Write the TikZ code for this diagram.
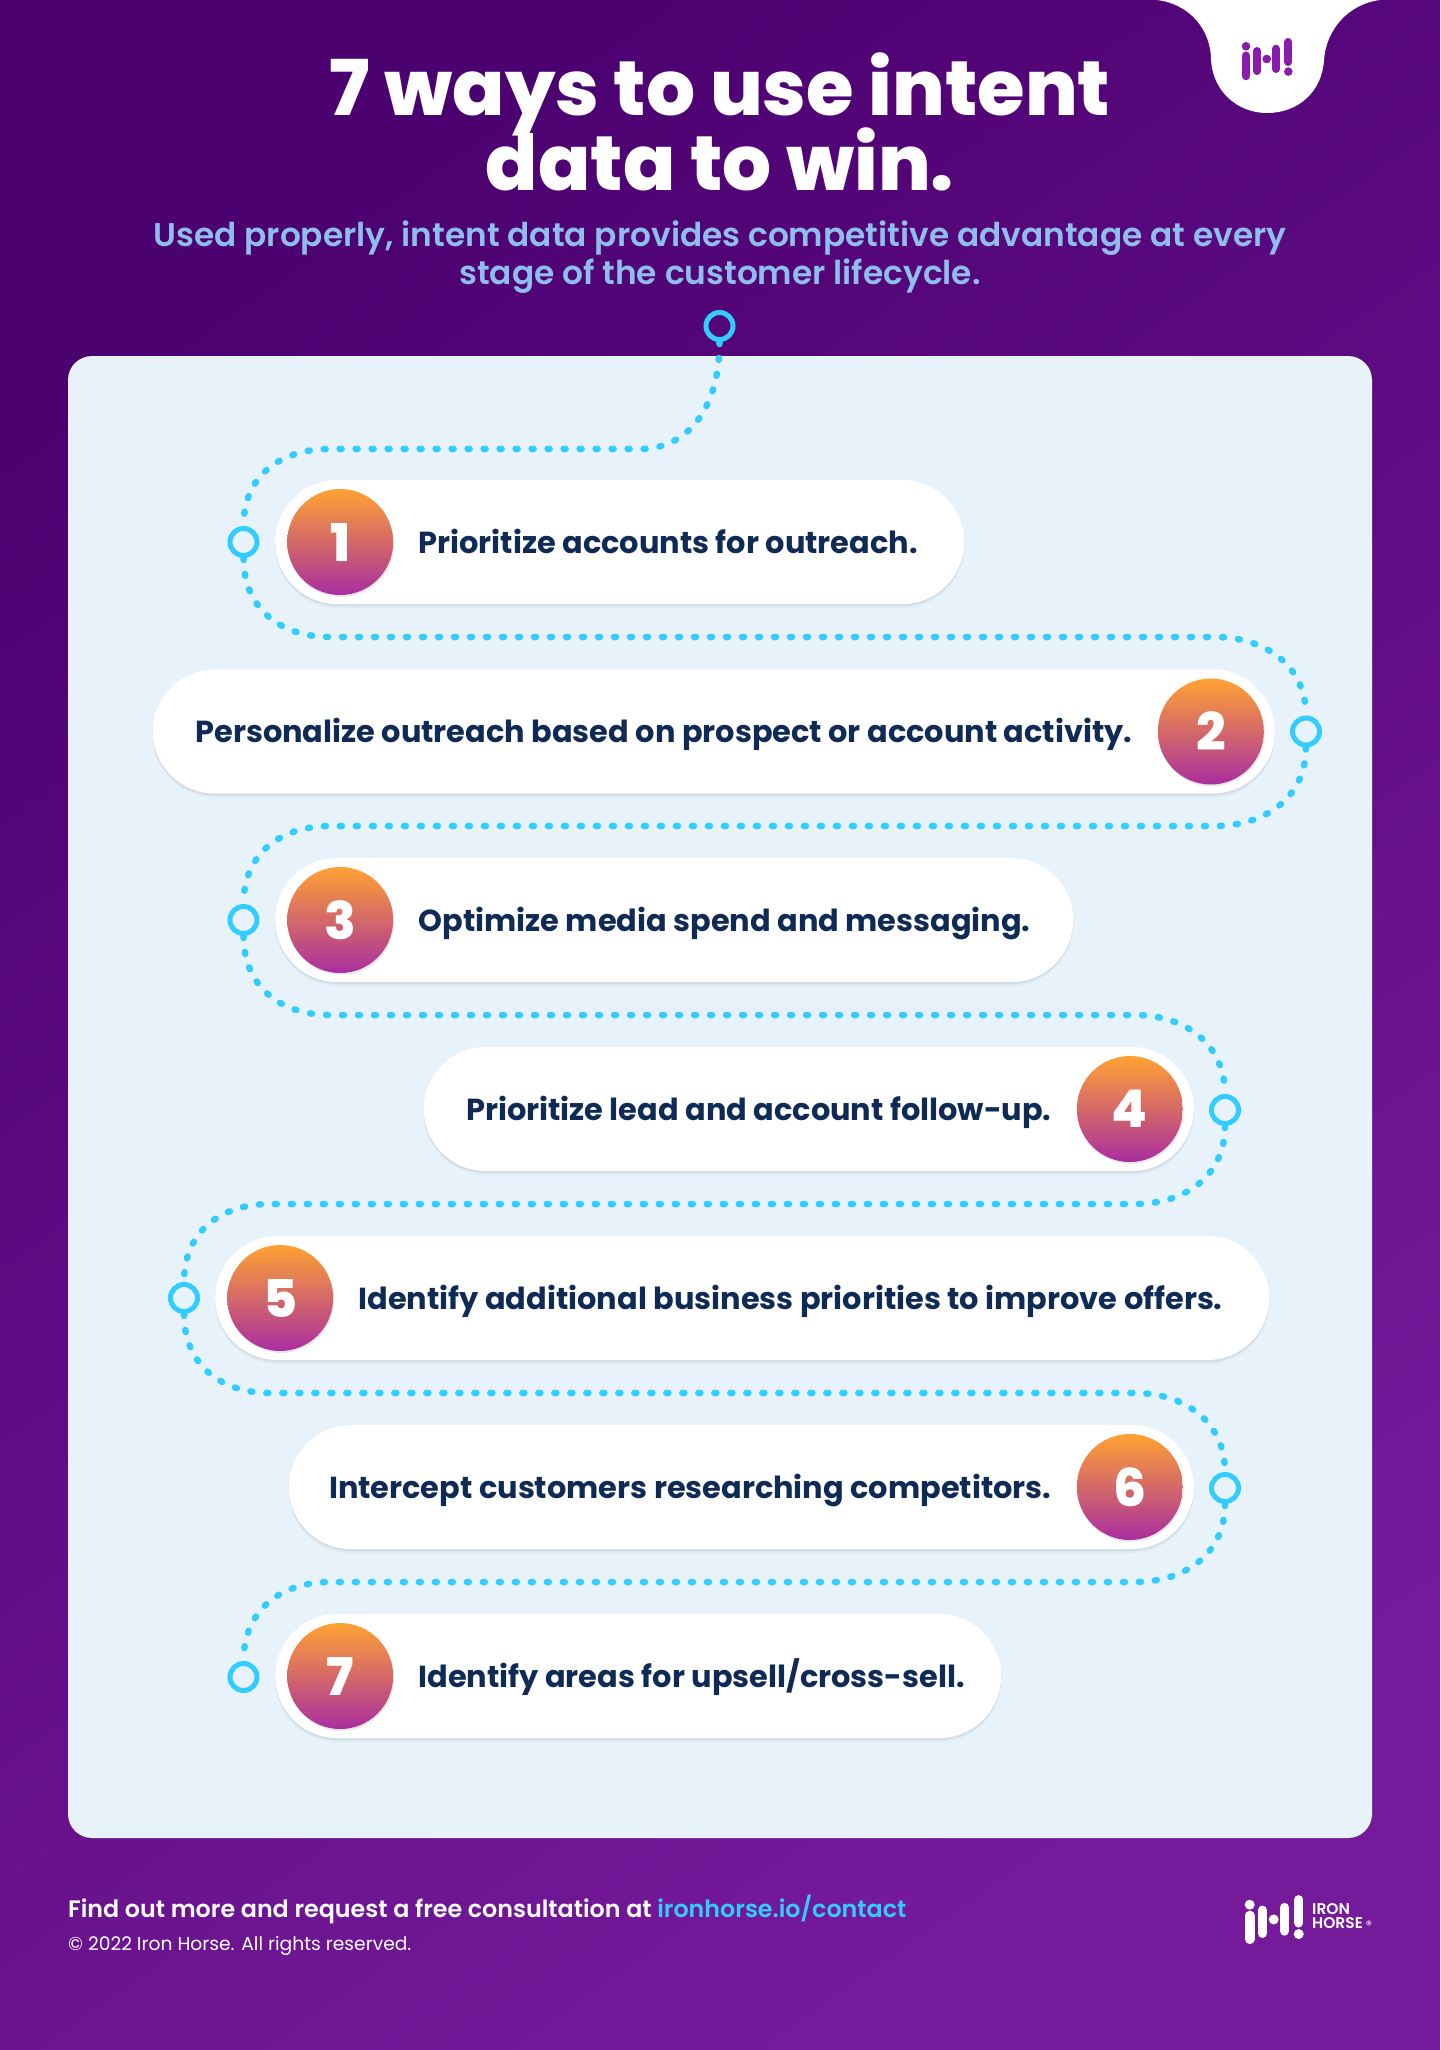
\documentclass[tikz,border=0pt]{standalone}
\usepackage{fontspec}
\setmainfont{Poppins}
\newfontfamily\titlefont{Poppins ExtraBold}
\newfontfamily\semifont{Poppins SemiBold}
\newfontfamily\boldfont{Poppins Bold}
\usetikzlibrary{positioning,shadows}
\definecolor{bgdark}{HTML}{4C0170}
\definecolor{bglight}{HTML}{761A9C}
\definecolor{panelblue}{HTML}{E7F2FB}
\definecolor{trailblue}{HTML}{33CCFF}
\definecolor{navytext}{HTML}{0F2A55}
\definecolor{subblue}{HTML}{8FBDEE}
\definecolor{markpurple}{HTML}{8A1BAE}
\definecolor{numtop}{HTML}{FFA233}
\definecolor{numbottom}{HTML}{A92E9F}
\tikzset{
  pillbox/.style={fill=white, rounded corners=62pt, minimum height=124pt, inner sep=0pt,
    drop shadow={shadow xshift=0pt, shadow yshift=-2pt, opacity=.10, fill=black!60},
    drop shadow={shadow xshift=0pt, shadow yshift=-4pt, opacity=.05, fill=black!60}},
  numdot/.style={circle, minimum size=106pt, inner sep=0pt, top color=numtop, bottom color=numbottom,
    text=white, font=\titlefont\fontsize{52}{52}\selectfont,
    drop shadow={shadow xshift=1pt, shadow yshift=-2pt, opacity=.14, fill=black!60}},
  pilltext/.style={inner sep=0pt, text=navytext, text height=28pt, text depth=6pt,
    font=\boldfont\fontsize{30.4}{31}\selectfont},
  ring/.style={circle, draw=trailblue, line width=5pt, minimum size=27pt, inner sep=0pt},
  trail/.style={draw=trailblue, line width=6.5pt, line cap=round, dash pattern=on 2pt off 14pt}
}
\newcommand{\ironmark}[4]{%
  \begin{scope}[shift={(#1,#2)}, scale=#3, line cap=round]
    \fill[#4] (0,0) circle (4.3) (20.7,12.7) circle (4.3) (42.3,25.3) circle (4.3);
    \draw[#4, line width=#3*8.5pt] (0,9.4) -- (0,29.7);
    \draw[#4, line width=#3*8pt] (11,4.7) -- (11,24.7) (30,2.4) -- (30,22.7) (42.3,-4.3) -- (42.3,15.7);
  \end{scope}}
\begin{document}
\begin{tikzpicture}[x=1pt, y=-1pt]
  \useasboundingbox (0,0) rectangle (1440,2050);
  \shade[top color=bgdark, bottom color=bglight, shading angle=35] (0,0) rectangle (1440,2050);

  % notch and logo
  \fill[white] (1157,0) .. controls (1190,4) and (1211,30) .. (1211,60)
    .. controls (1213,92) and (1238,113) .. (1267,113)
    .. controls (1298,113) and (1322,92) .. (1324,60)
    .. controls (1326,30) and (1348,4) .. (1380,0) -- cycle;
  \ironmark{1246}{46.3}{1}{markpurple}

  % heading
  \node[inner sep=0pt, anchor=base, text=white, font=\titlefont\fontsize{77}{77}\selectfont] (title1) at (720,115) {7 ways to use intent};
  \node[inner sep=0pt, anchor=base, text=white, font=\titlefont\fontsize{77}{77}\selectfont] (title2) at (720,190) {data to win.};
  \node[inner sep=0pt, anchor=base, text=subblue, font=\semifont\fontsize{32.8}{33}\selectfont] (sub1) at (720,246) {Used properly, intent data provides competitive advantage at every};
  \node[inner sep=0pt, anchor=base, text=subblue, font=\semifont\fontsize{32.8}{33}\selectfont] (sub2) at (720,284) {stage of the customer lifecycle.};

  \node[fill=panelblue, rounded corners=24pt, minimum width=1304pt, minimum height=1482pt, inner sep=0pt] (panel) at (720,1097) {};

  % rows
  \node[pillbox, minimum width=689pt, anchor=west] (pill1) at (275,542) {};
  \node[numdot, right=12pt of pill1.west] (num1) {1};
  \node[pilltext, right=25pt of num1] (text1) {Prioritize accounts for outreach.};

  \node[pillbox, minimum width=1122pt, anchor=east] (pill2) at (1275,731.5) {};
  \node[numdot, left=11pt of pill2.east] (num2) {2};
  \node[pilltext, left=25pt of num2] (text2) {Personalize outreach based on prospect or account activity.};

  \node[pillbox, minimum width=798pt, anchor=west] (pill3) at (275,920) {};
  \node[numdot, right=12pt of pill3.west] (num3) {3};
  \node[pilltext, right=25pt of num3] (text3) {Optimize media spend and messaging.};

  \node[pillbox, minimum width=770pt, anchor=east] (pill4) at (1194,1109) {};
  \node[numdot, left=11pt of pill4.east] (num4) {4};
  \node[pilltext, left=25pt of num4] (text4) {Prioritize lead and account follow-up.};

  \node[pillbox, minimum width=1054pt, anchor=west] (pill5) at (215,1298) {};
  \node[numdot, right=12pt of pill5.west] (num5) {5};
  \node[pilltext, right=25pt of num5] (text5) {Identify additional business priorities to improve offers.};

  \node[pillbox, minimum width=905pt, anchor=east] (pill6) at (1194,1487) {};
  \node[numdot, left=11pt of pill6.east] (num6) {6};
  \node[pilltext, left=25pt of num6] (text6) {Intercept customers researching competitors.};

  \node[pillbox, minimum width=726pt, anchor=west] (pill7) at (275,1676) {};
  \node[numdot, right=12pt of pill7.west] (num7) {7};
  \node[pilltext, right=25pt of num7] (text7) {Identify areas for upsell/cross-sell.};

  % rings
  \node[ring] (ring0) at (719.5,326) {};
  \node[ring] (ring1) at (243.5,542) {};
  \node[ring] (ring2) at (1306,731.5) {};
  \node[ring] (ring3) at (243.5,920) {};
  \node[ring] (ring4) at (1225,1110) {};
  \node[ring] (ring5) at (184,1298) {};
  \node[ring] (ring6) at (1225,1488) {};
  \node[ring] (ring7) at (243.5,1677) {};

  % bends of the trail
  \coordinate (turn1a) at (640,449);  \coordinate (turn1b) at (330,449);
  \coordinate (turn2a) at (330,637);  \coordinate (turn2b) at (1215,637);
  \coordinate (turn3a) at (1215,826); \coordinate (turn3b) at (330,826);
  \coordinate (turn4a) at (330,1015); \coordinate (turn4b) at (1135,1015);
  \coordinate (turn5a) at (1135,1204); \coordinate (turn5b) at (270,1204);
  \coordinate (turn6a) at (270,1393); \coordinate (turn6b) at (1135,1393);
  \coordinate (turn7a) at (1135,1582); \coordinate (turn7b) at (330,1582);

  \draw[trail] (ring0.south) .. controls +(0,70) and +(45,0) .. (turn1a) -- (turn1b) .. controls +(-50,0) and +(0,-50) .. (ring1.north);
  \draw[trail] (ring1.south) .. controls +(0,50) and +(-50,0) .. (turn2a) -- (turn2b) .. controls +(50,0) and +(0,-50) .. (ring2.north);
  \draw[trail] (ring2.south) .. controls +(0,50) and +(50,0) .. (turn3a) -- (turn3b) .. controls +(-50,0) and +(0,-50) .. (ring3.north);
  \draw[trail] (ring3.south) .. controls +(0,50) and +(-50,0) .. (turn4a) -- (turn4b) .. controls +(50,0) and +(0,-50) .. (ring4.north);
  \draw[trail] (ring4.south) .. controls +(0,50) and +(50,0) .. (turn5a) -- (turn5b) .. controls +(-50,0) and +(0,-50) .. (ring5.north);
  \draw[trail] (ring5.south) .. controls +(0,50) and +(-50,0) .. (turn6a) -- (turn6b) .. controls +(50,0) and +(0,-50) .. (ring6.north);
  \draw[trail] (ring6.south) .. controls +(0,50) and +(50,0) .. (turn7a) -- (turn7b) .. controls +(-50,0) and +(0,-50) .. (ring7.north);

  % footer
  \node[inner sep=0pt, anchor=base west, text=white, font=\semifont\fontsize{23.8}{24}\selectfont] (findout) at (68,1917) {Find out more and request a free consultation at \textcolor{trailblue}{ironhorse.io/contact}};
  \node[inner sep=0pt, anchor=base west, text=white, font=\fontsize{18.7}{19}\selectfont] (rights) at (68,1950) {© 2022 Iron Horse. All rights reserved.};
  \ironmark{1249.7}{1904.7}{1.16}{white}
  \node[inner sep=0pt, anchor=base west, text=white, font=\semifont\fontsize{15.5}{16}\selectfont] (iron) at (1312,1914) {IRON};
  \node[inner sep=0pt, anchor=base west, text=white, font=\semifont\fontsize{15.5}{16}\selectfont] (horse) at (1312,1928) {HORSE};
  \node[inner sep=0pt, text=white, font=\fontsize{12}{12}\selectfont] (regmark) at (1369,1925) {®};
\end{tikzpicture}
\end{document}
